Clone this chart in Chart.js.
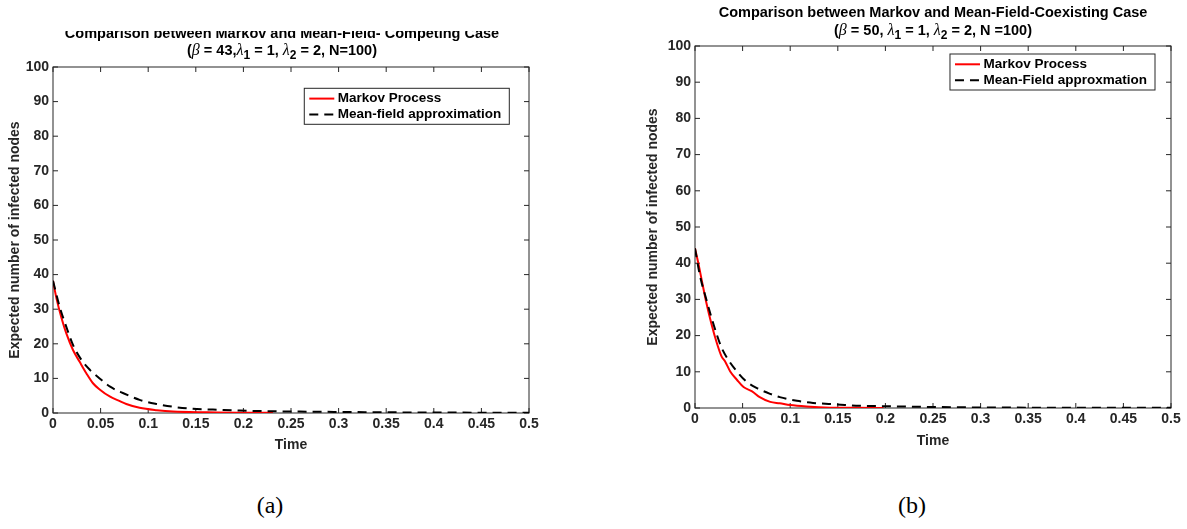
<!DOCTYPE html>
<html><head><meta charset="utf-8">
<script src="https://cdn.jsdelivr.net/npm/chart.js@4.4.0/dist/chart.umd.min.js"></script>
<style>
html,body{margin:0;padding:0;background:#fff;}
body{width:1187px;height:529px;position:relative;overflow:hidden;}
#wrapA{position:absolute;left:0;top:31px;width:560px;height:439px;overflow:hidden;}
#cA{position:absolute;left:0;top:-31px;}
#cB{position:absolute;left:600px;top:0;}
.cap{position:absolute;font-family:'Liberation Serif',serif;font-size:24px;color:#000;transform:translate(-50%,-50%);white-space:nowrap;}
</style></head><body>
<div id="wrapA"><canvas id="cA" width="560" height="470"></canvas></div>
<canvas id="cB" width="587" height="470"></canvas>
<div class="cap" style="left:270px;top:505px">(a)</div>
<div class="cap" style="left:912px;top:505px">(b)</div>
<script>
// ---- tick values and labels ----
const xTicks = [0, 0.05, 0.1, 0.15, 0.2, 0.25, 0.3, 0.35, 0.4, 0.45, 0.5];
const xTickLabels = ['0', '0.05', '0.1', '0.15', '0.2', '0.25', '0.3', '0.35', '0.4', '0.45', '0.5'];
const yTicks = [0, 10, 20, 30, 40, 50, 60, 70, 80, 90, 100];
const yTickLabels = ['0', '10', '20', '30', '40', '50', '60', '70', '80', '90', '100'];

// ---- panel (a): competing case ----
const titleA = ['Comparison between Markov and Mean-Field- Competing Case', '(\u03b2 = 43,\u03bb_1 = 1, \u03bb_2 = 2, N=100)'];
const legendA = ['Markov Process', 'Mean-field approximation'];
const markovTimeA = [0, 0.004, 0.009, 0.014, 0.021, 0.028, 0.035, 0.042, 0.049, 0.060, 0.069, 0.077, 0.091, 0.109, 0.126, 0.161, 0.195, 0.231];
const markovValueA = [38.2, 32.7, 27.4, 23.0, 18.2, 14.8, 11.5, 8.6, 6.8, 4.7, 3.6, 2.6, 1.5, 0.8, 0.4, 0.2, 0.1, 0.1];
const meanTimeA = [0, 0.007, 0.014, 0.021, 0.030, 0.039, 0.049, 0.060, 0.074, 0.091, 0.109, 0.126, 0.147, 0.168, 0.196, 0.231, 0.259, 0.30, 0.35, 0.40, 0.45, 0.50];
const meanValueA = [38.2, 30.7, 24.9, 19.7, 15.3, 12.4, 10.0, 7.6, 5.7, 3.8, 2.6, 1.8, 1.2, 1.0, 0.7, 0.5, 0.4, 0.3, 0.2, 0.15, 0.1, 0.1];

// ---- panel (b): coexisting case ----
const titleB = ['Comparison between Markov and Mean-Field-Coexisting Case', '(\u03b2 = 50, \u03bb_1 = 1, \u03bb_2 = 2, N =100)'];
const legendB = ['Markov Process', 'Mean-Field approxmation'];
const markovTimeB = [0, 0.0035, 0.007, 0.012, 0.0175, 0.023, 0.028, 0.0315, 0.037, 0.044, 0.051, 0.060, 0.068, 0.079, 0.089, 0.100, 0.117, 0.142, 0.170, 0.198];
const markovValueB = [44.1, 40.0, 35.4, 29.0, 23.0, 17.9, 14.2, 12.9, 10.1, 7.8, 5.8, 4.6, 3.0, 1.7, 1.3, 0.8, 0.4, 0.1, 0.05, 0];
const meanTimeB = [0, 0.005, 0.012, 0.0175, 0.023, 0.028, 0.035, 0.044, 0.054, 0.065, 0.079, 0.089, 0.107, 0.124, 0.149, 0.173, 0.198, 0.257, 0.30, 0.35, 0.40, 0.45, 0.50];
const meanValueB = [44.1, 36.8, 29.9, 24.8, 20.2, 16.6, 13.3, 10.1, 7.3, 5.5, 3.9, 3.0, 2.0, 1.4, 1.0, 0.6, 0.5, 0.25, 0.15, 0.1, 0.07, 0.05, 0.04];

const yAxisTitle = 'Expected number of infected nodes';
const xAxisTitle = 'Time';

const AX = '#262626';
const SANS = "'Liberation Sans', Arial, Helvetica, sans-serif";

function zip(ts, vs) { return ts.map((t, i) => ({ x: t, y: vs[i] })); }

// box + inward ticks (MATLAB style)
const boxTicks = {
  id: 'boxTicks',
  beforeDatasetsDraw(chart) {
    const { ctx, chartArea: a, scales: { x, y } } = chart;
    ctx.save();
    ctx.strokeStyle = AX; ctx.lineWidth = 1;
    ctx.strokeRect(a.left, a.top, a.right - a.left, a.bottom - a.top);
    ctx.beginPath();
    const L = 5;
    x.ticks.forEach(t => { const p = x.getPixelForValue(t.value);
      ctx.moveTo(p, a.bottom); ctx.lineTo(p, a.bottom - L);
      ctx.moveTo(p, a.top); ctx.lineTo(p, a.top + L); });
    y.ticks.forEach(t => { const p = y.getPixelForValue(t.value);
      ctx.moveTo(a.left, p); ctx.lineTo(a.left + L, p);
      ctx.moveTo(a.right, p); ctx.lineTo(a.right - L, p); });
    ctx.stroke();
    ctx.restore();
  }
};

// boxed legend inside the axes
const boxLegend = {
  id: 'boxLegend',
  afterDraw(chart, args, o) {
    const { ctx, chartArea: a } = chart;
    const ds = chart.data.datasets;
    ctx.save();
    ctx.font = 'bold 13.5px ' + SANS;
    let tw = 0;
    ds.forEach(d => { tw = Math.max(tw, ctx.measureText(d.label).width); });
    const w = 5 + 25 + 3.5 + tw + 8, h = 36;
    const x0 = a.right - o.dr - w, y0 = a.top + o.dt;
    ctx.fillStyle = '#fff';
    ctx.fillRect(x0, y0, w, h);
    ctx.strokeStyle = AX; ctx.lineWidth = 1;
    ctx.strokeRect(x0, y0, w, h);
    ds.forEach((d, i) => {
      const cy = y0 + 10.3 + i * 16;
      ctx.beginPath();
      ctx.setLineDash(d.borderDash || []);
      ctx.strokeStyle = d.borderColor; ctx.lineWidth = 2;
      ctx.moveTo(x0 + 5, cy); ctx.lineTo(x0 + 30, cy); ctx.stroke();
      ctx.setLineDash([]);
      ctx.fillStyle = '#000'; ctx.textBaseline = 'middle'; ctx.textAlign = 'left';
      ctx.fillText(d.label, x0 + 33.5, cy);
    });
    ctx.restore();
  }
};

// two-line title with Greek letters and subscripts
function parseTitle(str) {
  const segs = [];
  let cur = '';
  for (let i = 0; i < str.length; i++) {
    const c = str[i];
    if (c === '\u03b2' || c === '\u03bb') { if (cur) segs.push({ t: cur, k: 'n' }); cur = ''; segs.push({ t: c, k: 'g' }); }
    else if (c === '_') { if (cur) segs.push({ t: cur, k: 'n' }); cur = ''; segs.push({ t: str[i + 1], k: 's' }); i++; }
    else cur += c;
  }
  if (cur) segs.push({ t: cur, k: 'n' });
  return segs;
}
function segFont(s) {
  if (s.k === 'g') return "italic 16px 'Liberation Serif', serif";
  if (s.k === 's') return 'bold 12px ' + SANS;
  return 'bold 14.5px ' + SANS;
}
const texTitle = {
  id: 'texTitle',
  afterDraw(chart, args, o) {
    const { ctx, chartArea: a } = chart;
    ctx.save();
    ctx.fillStyle = '#000'; ctx.textBaseline = 'alphabetic'; ctx.textAlign = 'left';
    o.lines.forEach((line, i) => {
      const segs = parseTitle(line);
      let w = 0;
      segs.forEach(s => { ctx.font = segFont(s); w += ctx.measureText(s.t).width; });
      let x = (a.left + a.right) / 2 + o.dx - w / 2;
      const by = a.top - o.above[i];
      segs.forEach(s => {
        ctx.font = segFont(s);
        ctx.fillText(s.t, x, by + (s.k === 's' ? 4 : 0));
        x += ctx.measureText(s.t).width;
      });
    });
    ctx.restore();
  }
};

function makeChart(canvas, c) {
  return new Chart(canvas, {
    type: 'line',
    data: {
      datasets: [
        { label: c.legend[0], data: zip(c.mt, c.mv), borderColor: '#ff0000', borderWidth: 2, pointRadius: 0, fill: false, cubicInterpolationMode: 'monotone', order: 1 },
        { label: c.legend[1], data: zip(c.ft, c.fv), borderColor: '#000000', borderWidth: 2, borderDash: [9, 6], pointRadius: 0, fill: false, cubicInterpolationMode: 'monotone', order: 0 }
      ]
    },
    options: {
      responsive: false,
      animation: false,
      events: [],
      layout: { padding: c.padding },
      plugins: {
        legend: { display: false },
        title: { display: false },
        tooltip: { enabled: false },
        boxLegend: c.legendPos,
        texTitle: { lines: c.title, above: c.above, dx: c.dx }
      },
      scales: {
        x: {
          type: 'linear', min: 0, max: 0.5,
          grid: { display: false, drawTicks: false },
          border: { display: false },
          afterBuildTicks: s => { s.ticks = xTicks.map(v => ({ value: v })); },
          ticks: { padding: 3, color: AX, autoSkip: false, maxRotation: 0,
            font: { family: SANS, weight: 'bold', size: 14 },
            callback: (v, i) => xTickLabels[i] },
          title: { display: true, text: xAxisTitle, color: AX, padding: 0,
            font: { family: SANS, weight: 'bold', size: 14 } },
          afterFit: s => { s.height = c.xh; }
        },
        y: {
          type: 'linear', min: 0, max: 100,
          grid: { display: false, drawTicks: false },
          border: { display: false },
          afterBuildTicks: s => { s.ticks = yTicks.map(v => ({ value: v })); },
          ticks: { padding: 4, color: AX, autoSkip: false,
            font: { family: SANS, weight: 'bold', size: 14 },
            callback: (v, i) => yTickLabels[i] },
          title: { display: true, text: yAxisTitle, color: AX, padding: 0,
            font: { family: SANS, weight: 'bold', size: 14 } },
          afterFit: s => { s.width = c.yw; }
        }
      }
    },
    plugins: [boxTicks, boxLegend, texTitle]
  });
}

makeChart(document.getElementById('cA'), {
  legend: legendA, title: titleA,
  mt: markovTimeA, mv: markovValueA, ft: meanTimeA, fv: meanValueA,
  padding: { left: 7, right: 31, top: 67, bottom: 16.6 },
  yw: 46, xh: 40.4,
  above: [29, 12], dx: -9,
  legendPos: { dr: 19.7, dt: 21.3 }
});

makeChart(document.getElementById('cB'), {
  legend: legendB, title: titleB,
  mt: markovTimeB, mv: markovValueB, ft: meanTimeB, fv: meanValueB,
  padding: { left: 45, right: 16, top: 46, bottom: 20.6 },
  yw: 50, xh: 41.4,
  above: [29, 11], dx: 0,
  legendPos: { dr: 16, dt: 8 }
});
</script>
</body></html>
